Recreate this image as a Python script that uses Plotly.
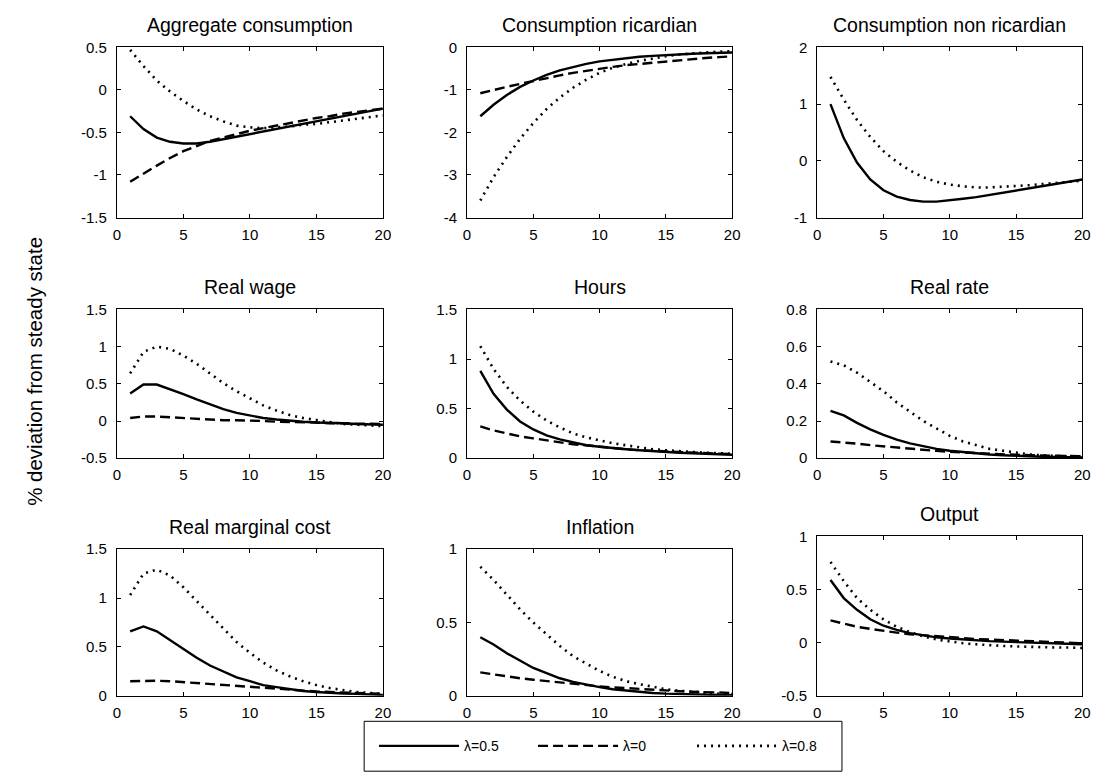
import plotly.graph_objects as go

periods = list(range(1, 21))

titles = ["Aggregate consumption", "Consumption ricardian", "Consumption non ricardian",
          "Real wage", "Hours", "Real rate",
          "Real marginal cost", "Inflation", "Output"]

series_names = ["λ=0.5", "λ=0", "λ=0.8"]

# Aggregate consumption
agg_c_05 = [-0.31, -0.46, -0.56, -0.61, -0.63, -0.63, -0.61, -0.58, -0.55, -0.52,
            -0.49, -0.46, -0.43, -0.40, -0.37, -0.34, -0.31, -0.28, -0.25, -0.22]
agg_c_0 = [-1.08, -0.98, -0.89, -0.80, -0.72, -0.66, -0.60, -0.56, -0.52, -0.48,
           -0.45, -0.42, -0.39, -0.36, -0.33, -0.31, -0.28, -0.26, -0.24, -0.22]
agg_c_08 = [0.47, 0.28, 0.11, -0.02, -0.13, -0.23, -0.31, -0.37, -0.42, -0.44,
            -0.45, -0.44, -0.43, -0.41, -0.40, -0.38, -0.36, -0.34, -0.32, -0.30]

# Consumption ricardian
ric_c_05 = [-1.62, -1.35, -1.12, -0.93, -0.78, -0.65, -0.54, -0.46, -0.39, -0.33,
            -0.29, -0.25, -0.22, -0.20, -0.18, -0.16, -0.15, -0.14, -0.13, -0.12]
ric_c_0 = [-1.08, -1.00, -0.93, -0.86, -0.79, -0.72, -0.66, -0.60, -0.55, -0.50,
           -0.46, -0.42, -0.39, -0.36, -0.33, -0.30, -0.28, -0.25, -0.23, -0.21]
ric_c_08 = [-3.60, -3.05, -2.58, -2.15, -1.78, -1.45, -1.18, -0.95, -0.76, -0.60,
            -0.48, -0.39, -0.32, -0.26, -0.21, -0.17, -0.14, -0.12, -0.10, -0.09]

# Consumption non ricardian (no dashed line: lambda = 0)
nric_c_05 = [1.00, 0.40, -0.03, -0.33, -0.52, -0.63, -0.69, -0.72, -0.72, -0.70,
             -0.67, -0.64, -0.60, -0.56, -0.53, -0.49, -0.45, -0.41, -0.37, -0.33]
nric_c_0 = [None] * 20
nric_c_08 = [1.48, 1.08, 0.72, 0.42, 0.17, -0.02, -0.17, -0.29, -0.37, -0.42,
             -0.45, -0.47, -0.47, -0.46, -0.45, -0.43, -0.41, -0.39, -0.37, -0.35]

# Real wage
wage_05 = [0.37, 0.49, 0.49, 0.43, 0.36, 0.29, 0.22, 0.16, 0.11, 0.07,
           0.04, 0.02, 0.00, -0.01, -0.02, -0.03, -0.03, -0.04, -0.04, -0.05]
wage_0 = [0.04, 0.06, 0.06, 0.05, 0.04, 0.03, 0.02, 0.01, 0.01, 0.00,
          0.00, -0.01, -0.01, -0.02, -0.02, -0.03, -0.03, -0.03, -0.03, -0.04]
wage_08 = [0.64, 0.93, 1.00, 0.97, 0.88, 0.77, 0.64, 0.51, 0.40, 0.30,
           0.21, 0.14, 0.08, 0.04, 0.01, -0.02, -0.04, -0.05, -0.06, -0.07]

# Hours
hours_05 = [0.88, 0.65, 0.49, 0.37, 0.29, 0.23, 0.19, 0.16, 0.13, 0.115,
            0.10, 0.09, 0.08, 0.07, 0.06, 0.055, 0.05, 0.045, 0.04, 0.035]
hours_0 = [0.32, 0.28, 0.25, 0.22, 0.20, 0.18, 0.16, 0.14, 0.13, 0.115,
           0.10, 0.09, 0.08, 0.075, 0.065, 0.06, 0.055, 0.05, 0.045, 0.04]
hours_08 = [1.13, 0.90, 0.72, 0.58, 0.47, 0.38, 0.31, 0.25, 0.21, 0.18,
            0.15, 0.13, 0.11, 0.09, 0.08, 0.07, 0.06, 0.055, 0.05, 0.045]

# Real rate
rate_05 = [0.255, 0.23, 0.19, 0.155, 0.125, 0.10, 0.08, 0.063, 0.05, 0.04,
           0.032, 0.025, 0.02, 0.016, 0.012, 0.01, 0.008, 0.006, 0.005, 0.004]
rate_0 = [0.09, 0.085, 0.078, 0.07, 0.063, 0.056, 0.05, 0.044, 0.039, 0.034,
          0.03, 0.026, 0.023, 0.02, 0.018, 0.016, 0.014, 0.012, 0.011, 0.01]
rate_08 = [0.52, 0.50, 0.46, 0.41, 0.36, 0.30, 0.25, 0.20, 0.16, 0.12,
           0.09, 0.07, 0.05, 0.04, 0.03, 0.02, 0.015, 0.012, 0.01, 0.008]

# Real marginal cost
mc_05 = [0.66, 0.71, 0.66, 0.57, 0.48, 0.39, 0.31, 0.25, 0.19, 0.15,
         0.11, 0.09, 0.07, 0.05, 0.04, 0.03, 0.025, 0.02, 0.015, 0.01]
mc_0 = [0.15, 0.155, 0.155, 0.15, 0.14, 0.13, 0.12, 0.11, 0.10, 0.09,
        0.08, 0.07, 0.06, 0.05, 0.045, 0.04, 0.035, 0.03, 0.025, 0.02]
mc_08 = [1.03, 1.25, 1.29, 1.23, 1.11, 0.97, 0.82, 0.68, 0.55, 0.44,
         0.34, 0.26, 0.20, 0.15, 0.11, 0.08, 0.06, 0.04, 0.03, 0.02]

# Inflation
infl_05 = [0.40, 0.35, 0.29, 0.24, 0.19, 0.155, 0.12, 0.095, 0.075, 0.06,
           0.045, 0.035, 0.027, 0.02, 0.015, 0.012, 0.009, 0.007, 0.005, 0.004]
infl_0 = [0.16, 0.145, 0.13, 0.12, 0.11, 0.10, 0.09, 0.08, 0.07, 0.065,
          0.058, 0.052, 0.046, 0.041, 0.036, 0.032, 0.028, 0.025, 0.022, 0.02]
infl_08 = [0.88, 0.79, 0.69, 0.59, 0.50, 0.42, 0.34, 0.27, 0.22, 0.17,
           0.13, 0.10, 0.08, 0.06, 0.045, 0.035, 0.027, 0.02, 0.015, 0.012]

# Output
out_05 = [0.59, 0.42, 0.31, 0.22, 0.16, 0.12, 0.09, 0.07, 0.05, 0.04,
          0.03, 0.02, 0.015, 0.01, 0.005, 0.0, -0.005, -0.01, -0.01, -0.015]
out_0 = [0.21, 0.18, 0.15, 0.13, 0.11, 0.095, 0.08, 0.07, 0.06, 0.05,
         0.04, 0.035, 0.03, 0.025, 0.02, 0.015, 0.01, 0.005, 0.0, -0.005]
out_08 = [0.76, 0.58, 0.42, 0.31, 0.22, 0.15, 0.10, 0.06, 0.03, 0.01,
          -0.005, -0.015, -0.025, -0.03, -0.035, -0.04, -0.04, -0.045, -0.045, -0.05]

panel_data = [
    (agg_c_05, agg_c_0, agg_c_08),
    (ric_c_05, ric_c_0, ric_c_08),
    (nric_c_05, nric_c_0, nric_c_08),
    (wage_05, wage_0, wage_08),
    (hours_05, hours_0, hours_08),
    (rate_05, rate_0, rate_08),
    (mc_05, mc_0, mc_08),
    (infl_05, infl_0, infl_08),
    (out_05, out_0, out_08),
]

y_ranges = [[-1.5, 0.5], [-4, 0], [-1, 2],
            [-0.5, 1.5], [0, 1.5], [0, 0.8],
            [0, 1.5], [0, 1], [-0.5, 1]]
y_tickvals = [[-1.5, -1, -0.5, 0, 0.5], [-4, -3, -2, -1, 0], [-1, 0, 1, 2],
              [-0.5, 0, 0.5, 1, 1.5], [0, 0.5, 1, 1.5], [0, 0.2, 0.4, 0.6, 0.8],
              [0, 0.5, 1, 1.5], [0, 0.5, 1], [-0.5, 0, 0.5, 1]]
y_ticktext = [["-1.5", "-1", "-0.5", "0", "0.5"], ["-4", "-3", "-2", "-1", "0"], ["-1", "0", "1", "2"],
              ["-0.5", "0", "0.5", "1", "1.5"], ["0", "0.5", "1", "1.5"], ["0", "0.2", "0.4", "0.6", "0.8"],
              ["0", "0.5", "1", "1.5"], ["0", "0.5", "1"], ["-0.5", "0", "0.5", "1"]]
x_tickvals = [0, 5, 10, 15, 20]
x_ticktext = ["0", "5", "10", "15", "20"]

W, H = 1113, 780
OFF = 8  # default page body margin in the browser
col_px = [(114, 383), (468, 736), (822, 1090)]
row_px = [(39, 213), (307, 459), (552, 702)]
output_top_px = 539


def fx(px):
    return (px - OFF) / W


def fy(px):
    return 1 - (px - OFF) / H


dash_styles = ["solid", "10px,5px", "2px,5px"]
widths = [2.4, 2.4, 2.6]

FONT = "Liberation Sans, Arial, Helvetica, sans-serif"

fig = go.Figure()
annotations = []
for i in range(9):
    r, c = divmod(i, 3)
    x0, x1 = col_px[c]
    top, bot = row_px[r]
    if i == 8:
        top = output_top_px
    xd = [fx(x0), fx(x1)]
    yd = [fy(bot), fy(top)]
    ax = "" if i == 0 else str(i + 1)
    for k in range(3):
        fig.add_trace(go.Scatter(
            x=periods, y=panel_data[i][k], mode="lines",
            name=series_names[k], showlegend=(i == 0),
            line=dict(color="black", width=widths[k], dash=dash_styles[k]),
            xaxis="x" + ax, yaxis="y" + ax,
        ))
    common = dict(showline=True, linecolor="black", linewidth=1, mirror="ticks",
                  ticks="inside", ticklen=4, tickcolor="black", showgrid=False,
                  zeroline=False, tickfont=dict(family=FONT, size=15, color="black"))
    fig.layout["xaxis" + ax] = dict(domain=xd, range=[0, 20], tickvals=x_tickvals,
                                    ticktext=x_ticktext, anchor="y" + ax,
                                    ticklabelstandoff=3, **common)
    fig.layout["yaxis" + ax] = dict(domain=yd, range=y_ranges[i], tickvals=y_tickvals[i],
                                    ticktext=y_ticktext[i], anchor="x" + ax,
                                    ticklabelstandoff=6, **common)
    annotations.append(dict(text=titles[i], x=(xd[0] + xd[1]) / 2, y=yd[1],
                            xref="paper", yref="paper", xanchor="center", yanchor="bottom",
                            yshift=9, showarrow=False,
                            font=dict(family=FONT, size=19.5, color="black")))

annotations.append(dict(text="% deviation from steady state", x=fx(30), y=fy(370),
                        xref="paper", yref="paper", xanchor="center", yanchor="middle",
                        textangle=-90, showarrow=False,
                        font=dict(family=FONT, size=20.5, color="black")))

fig.update_layout(
    width=W, height=H,
    margin=dict(l=0, r=0, t=0, b=0),
    paper_bgcolor="white", plot_bgcolor="white",
    annotations=annotations,
    shapes=[dict(type="rect", xref="paper", yref="paper",
                 x0=fx(364), x1=fx(847), y0=fy(779), y1=fy(728),
                 line=dict(color="black", width=1), fillcolor="rgba(0,0,0,0)")],
    legend=dict(orientation="h", x=fx(374), xanchor="left", y=fy(753.5), yanchor="middle",
                font=dict(family=FONT, size=14, color="black"),
                bgcolor="rgba(0,0,0,0)", borderwidth=0, itemwidth=80,
                entrywidth=64, entrywidthmode="pixels"),
)

fig.write_html("out.html")
